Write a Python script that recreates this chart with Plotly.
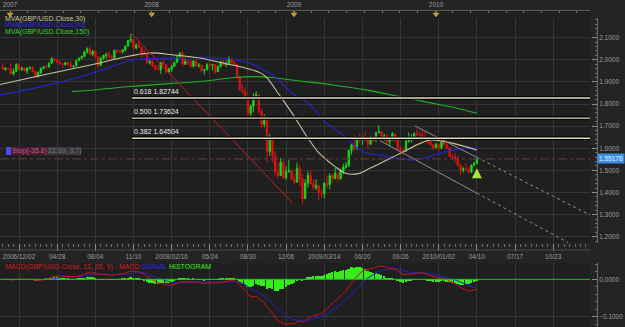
import plotly.graph_objects as go
import pandas as pd

# ---------------- data (weekly GBP/USD candles, index 0 = tick "2006/12/02") -------------
weeks = list(range(-6, 169))
opens = [1.9680,1.9570,1.9620,1.9580,1.9360,1.9480,1.9790,1.9570,1.9620,1.9490,
         1.9630,1.9640,1.9460,1.9240,1.9410,1.9610,1.9680,1.9670,1.9850,2.0040,
         1.9980,1.9880,1.9820,1.9790,1.9870,1.9800,1.9700,1.9720,1.9970,2.0060,
         2.0150,2.0360,2.0500,2.0260,2.0390,2.0130,1.9750,2.0070,2.0200,2.0250,
         2.0130,2.0070,2.0420,2.0380,2.0360,2.0440,2.0620,2.0870,2.0920,2.0550,
         2.0660,2.0560,2.0290,2.0220,1.9860,1.9930,1.9730,1.9580,1.9560,1.9870,
         1.9770,1.9460,1.9580,1.9700,1.9880,2.0140,2.0300,1.9800,1.9930,1.9890,
         1.9710,1.9940,1.9720,1.9750,1.9520,1.9550,1.9780,1.9760,1.9780,1.9460,
         1.9700,1.9910,1.9780,1.9790,2.0030,1.9870,1.9790,1.9180,1.8640,1.8550,
         1.8220,1.7580,1.7900,1.8250,1.8420,1.7690,1.7080,1.7250,1.5840,1.6370,
         1.5660,1.4920,1.4770,1.5370,1.4660,1.4960,1.4990,1.4610,1.4470,1.5100,
         1.4620,1.3720,1.4420,1.4780,1.4390,1.4230,1.4310,1.4000,1.3940,1.4410,
         1.4360,1.4760,1.4630,1.4870,1.4620,1.4980,1.5150,1.5230,1.5900,1.6160,
         1.6010,1.6480,1.6440,1.6520,1.6350,1.6190,1.6480,1.6460,1.6700,1.6740,
         1.6500,1.6560,1.6300,1.6390,1.6650,1.6350,1.5960,1.5910,1.5870,1.6320,
         1.6430,1.6470,1.6660,1.6620,1.6580,1.6510,1.6420,1.6260,1.6160,1.6020,
         1.6170,1.6020,1.6280,1.6160,1.6000,1.5630,1.5620,1.5530,1.5240,1.5020,
         1.5070,1.5030,1.4930,1.5230,1.5320]
highs = [1.9850,1.9680,1.9640,1.9850,1.9610,1.9850,1.9830,1.9700,1.9650,1.9660,
         1.9720,1.9720,1.9500,1.9470,1.9650,1.9720,1.9760,1.9870,2.0130,2.0070,
         2.0030,1.9960,1.9860,1.9900,1.9890,1.9950,1.9760,1.9990,2.0120,2.0190,
         2.0400,2.0570,2.0600,2.0440,2.0430,2.0160,2.0110,2.0230,2.0330,2.0400,
         2.0210,2.0470,2.0470,2.0450,2.0480,2.0650,2.0900,2.1160,2.0930,2.0740,
         2.0850,2.0580,2.0480,2.0240,2.0000,1.9990,1.9760,1.9780,1.9900,1.9990,
         1.9800,1.9640,1.9760,1.9910,2.0160,2.0340,2.0400,2.0050,1.9980,1.9990,
         1.9990,2.0000,1.9860,1.9780,1.9580,1.9850,1.9880,1.9820,1.9800,1.9740,
         1.9950,1.9980,1.9970,2.0160,2.0090,1.9960,1.9830,1.9280,1.8870,1.8770,
         1.8240,1.7960,1.8480,1.8580,1.8450,1.7790,1.7540,1.7250,1.6650,1.6520,
         1.5870,1.5340,1.5570,1.5470,1.5170,1.5480,1.5040,1.4840,1.5360,1.5240,
         1.4830,1.4600,1.4950,1.5000,1.4600,1.4590,1.4320,1.4170,1.4480,1.4760,
         1.4870,1.4860,1.5110,1.4900,1.5080,1.5300,1.5380,1.5930,1.6200,1.6590,
         1.6520,1.6660,1.6570,1.6750,1.6420,1.6560,1.6560,1.6750,1.7040,1.6790,
         1.6660,1.6640,1.6430,1.6740,1.6670,1.6460,1.6080,1.6000,1.6400,1.6710,
         1.6620,1.6730,1.6870,1.6790,1.6880,1.6740,1.6460,1.6450,1.6180,1.6250,
         1.6180,1.6350,1.6460,1.6240,1.6070,1.5740,1.5800,1.5630,1.5280,1.5140,
         1.5320,1.5150,1.5280,1.5380,1.5530]
lows = [1.9560,1.9500,1.9540,1.9360,1.9290,1.9450,1.9560,1.9500,1.9470,1.9360,
        1.9560,1.9460,1.9180,1.9190,1.9360,1.9570,1.9620,1.9640,1.9830,1.9910,
        1.9840,1.9750,1.9650,1.9720,1.9720,1.9640,1.9610,1.9700,1.9930,2.0030,
        2.0120,2.0270,2.0180,2.0160,2.0110,1.9630,1.9720,1.9990,2.0050,2.0080,
        1.9980,2.0060,2.0280,2.0300,2.0290,2.0390,2.0600,2.0780,2.0420,2.0460,
        2.0520,2.0100,2.0210,1.9830,1.9780,1.9660,1.9520,1.9500,1.9360,1.9750,
        1.9370,1.9400,1.9450,1.9670,1.9850,2.0060,1.9720,1.9770,1.9780,1.9650,
        1.9640,1.9690,1.9640,1.9430,1.9340,1.9510,1.9610,1.9510,1.9360,1.9440,
        1.9650,1.9760,1.9680,1.9780,1.9840,1.9720,1.9150,1.8580,1.8480,1.8170,
        1.7440,1.7450,1.7640,1.8200,1.7580,1.6900,1.6950,1.5380,1.5640,1.5350,
        1.4730,1.4640,1.4750,1.4620,1.4580,1.4880,1.4540,1.4380,1.4450,1.4300,
        1.3500,1.3720,1.4210,1.4350,1.4130,1.4110,1.3660,1.3770,1.3730,1.4190,
        1.4140,1.4450,1.4590,1.4480,1.4560,1.4820,1.5070,1.5150,1.5710,1.5870,
        1.5920,1.6250,1.6150,1.6330,1.6000,1.6140,1.6270,1.6300,1.6690,1.6350,
        1.6340,1.6210,1.6080,1.6350,1.6260,1.5930,1.5810,1.5710,1.5830,1.6240,
        1.6250,1.6420,1.6540,1.6460,1.6300,1.6380,1.6180,1.6100,1.5930,1.5990,
        1.5840,1.5950,1.6110,1.5960,1.5590,1.5490,1.5350,1.5180,1.4780,1.4900,
        1.4970,1.4830,1.4880,1.5200,1.5280]
closes = [1.9570,1.9620,1.9580,1.9360,1.9480,1.9790,1.9570,1.9620,1.9490,1.9630,
          1.9640,1.9460,1.9240,1.9410,1.9610,1.9680,1.9670,1.9850,2.0040,1.9980,
          1.9880,1.9820,1.9790,1.9870,1.9800,1.9700,1.9720,1.9970,2.0060,2.0150,
          2.0360,2.0500,2.0260,2.0390,2.0130,1.9750,2.0070,2.0200,2.0250,2.0130,
          2.0070,2.0420,2.0380,2.0360,2.0440,2.0620,2.0870,2.0920,2.0550,2.0660,
          2.0560,2.0290,2.0220,1.9860,1.9930,1.9730,1.9580,1.9560,1.9870,1.9770,
          1.9460,1.9580,1.9700,1.9880,2.0140,2.0300,1.9800,1.9930,1.9890,1.9710,
          1.9940,1.9720,1.9750,1.9520,1.9550,1.9780,1.9760,1.9780,1.9460,1.9700,
          1.9910,1.9780,1.9790,2.0030,1.9870,1.9790,1.9180,1.8640,1.8550,1.8220,
          1.7580,1.7900,1.8250,1.8420,1.7690,1.7080,1.7250,1.5840,1.6370,1.5660,
          1.4920,1.4770,1.5370,1.4660,1.4960,1.4990,1.4610,1.4470,1.5100,1.4620,
          1.3720,1.4420,1.4780,1.4390,1.4230,1.4310,1.4000,1.3940,1.4410,1.4360,
          1.4760,1.4630,1.4870,1.4620,1.4980,1.5150,1.5230,1.5900,1.6160,1.6010,
          1.6480,1.6440,1.6520,1.6350,1.6190,1.6480,1.6460,1.6700,1.6740,1.6500,
          1.6560,1.6300,1.6390,1.6650,1.6350,1.5960,1.5910,1.5870,1.6320,1.6430,
          1.6470,1.6660,1.6620,1.6580,1.6510,1.6420,1.6260,1.6160,1.6020,1.6170,
          1.6020,1.6280,1.6160,1.6000,1.5630,1.5620,1.5530,1.5240,1.5020,1.5070,
          1.5030,1.4930,1.5230,1.5320,1.5518]

# moving averages (week index, price)
ma30_x = [-7, 8.8, 25, 40.7, 48, 57, 66.4, 75.6, 83, 88.4, 91, 95, 100.2, 106, 109.7,
          116, 119.6, 124, 128.8, 135, 141, 147.2, 150.8, 154.5, 159.3, 168]
ma30_y = [1.888, 1.931, 1.973, 2.017, 2.031, 2.022, 2.008, 1.983, 1.963, 1.942, 1.918,
          1.850, 1.759, 1.646, 1.584, 1.517, 1.488, 1.484, 1.509, 1.547, 1.584, 1.622,
          1.637, 1.634, 1.622, 1.592]
ma90_x = [-7, 9.5, 26, 41.8, 51, 63.5, 75.6, 83, 87.7, 94, 100.2, 106.8, 112.3, 119.6,
          126.2, 132.5, 138.7, 143.5, 148.3, 154.5, 160.7, 168]
ma90_y = [1.841, 1.882, 1.936, 1.999, 2.007, 2.010, 2.007, 1.990, 1.969, 1.922, 1.850,
          1.796, 1.720, 1.652, 1.584, 1.569, 1.555, 1.547, 1.555, 1.577, 1.595, 1.602]
ma150_x = [19.4, 29.7, 40.7, 53.6, 66.4, 79.3, 86.6, 92.1, 103.1, 115.2, 127.7, 139.8,
           151.9, 160.7, 168]
ma150_y = [1.856, 1.866, 1.879, 1.891, 1.902, 1.920, 1.924, 1.920, 1.904, 1.886, 1.863,
           1.833, 1.803, 1.781, 1.758]

bottom_tick_pos = [0, 14, 28, 42, 56, 70, 84, 98, 112, 126, 140, 154, 168, 182, 196]
bottom_tick_labels = ["2006/12/02", "04/28", "08/04", "11/10", "2008/02/16", "05/24",
                      "08/30", "12/06", "2009/03/14", "06/20", "09/26", "2010/01/02",
                      "04/10", "07/17", "10/23"]
year_pos = [-3.3, 48.7, 100.9, 153.0]
year_labels = ["2007", "2008", "2009", "2010"]

fib_ratios = [0.618, 0.500, 0.382]
fib_levels = [1.82744, 1.73624, 1.64504]
fib_start = 41.5

last_price = 1.55176
red_trend_x = [41.1, 100.4]
red_trend_y = [2.121, 1.352]
chan_upper_x = [145.3, 209.5]
chan_upper_y = [1.701, 1.298]
chan_lower_x = [132.5, 201.5]
chan_lower_y = [1.634, 1.173]
arrow_x = [168]
arrow_y = [1.509]

# ---------------- styling ----------------
X_RANGE = [-6.97, 209.5]
XD = [0, 0.944]
W, H = 625, 327
PAPER = '#242424'
PLOT = '#1f1f1f'
GRID = '#353535'
FONT = 'Liberation Sans'
axis_font = dict(family=FONT, size=6.5, color='#9c9c9c')


def py(px):  # pixel-from-top -> paper y
    return 1 - px / H


def pxx(px):
    return px / W


# MACD from closes
cs = pd.Series(closes)
ema12 = cs.ewm(span=12, adjust=False).mean()
ema26 = cs.ewm(span=26, adjust=False).mean()
macd = ema12 - ema26
signal = macd.ewm(span=9, adjust=False).mean()
hist = macd - signal

fig = go.Figure()

fig.add_trace(go.Candlestick(
    x=weeks, open=opens, high=highs, low=lows, close=closes,
    increasing=dict(line=dict(color='#19d619', width=1), fillcolor='#19d619'),
    decreasing=dict(line=dict(color='#e01010', width=1), fillcolor='#e01010'),
    whiskerwidth=0, hoverinfo='skip', xaxis='x', yaxis='y', showlegend=False))

for xs, ys, col in [(ma150_x, ma150_y, '#22b022'), (ma90_x, ma90_y, '#2424d8'),
                    (ma30_x, ma30_y, '#c9c49c')]:
    fig.add_trace(go.Scatter(x=xs, y=ys, mode='lines', line=dict(color=col, width=1.1, shape='spline'),
                             xaxis='x', yaxis='y', hoverinfo='skip', showlegend=False))

# trend lines
fig.add_trace(go.Scatter(x=red_trend_x, y=red_trend_y, mode='lines',
                         line=dict(color='#c81e1e', width=1), xaxis='x', yaxis='y',
                         hoverinfo='skip', showlegend=False))


def on_line(xs, ys, x):
    return ys[0] + (ys[1] - ys[0]) * (x - xs[0]) / (xs[1] - xs[0])


last_week = weeks[-1]
for xs, ys in [(chan_upper_x, chan_upper_y), (chan_lower_x, chan_lower_y)]:
    ym = on_line(xs, ys, last_week)
    fig.add_trace(go.Scatter(x=[xs[0], last_week], y=[ys[0], ym], mode='lines',
                             line=dict(color='#8c8c8c', width=1), xaxis='x', yaxis='y',
                             hoverinfo='skip', showlegend=False))
    fig.add_trace(go.Scatter(x=[last_week, xs[1]], y=[ym, ys[1]], mode='lines',
                             line=dict(color='#8c8c8c', width=1, dash='dot'), xaxis='x', yaxis='y',
                             hoverinfo='skip', showlegend=False))

fig.add_trace(go.Scatter(x=arrow_x, y=arrow_y, mode='markers',
                         marker=dict(symbol='arrow-up', size=10, color='#a8e23c'),
                         xaxis='x', yaxis='y', hoverinfo='skip', showlegend=False))

# MACD panel
fig.add_trace(go.Bar(x=weeks, y=hist, marker=dict(color='#33ee1a', line=dict(width=0)), width=0.72,
                     xaxis='x2', yaxis='y2', hoverinfo='skip', showlegend=False))
fig.add_trace(go.Scatter(x=weeks, y=signal, mode='lines', line=dict(color='#2222cc', width=1),
                         xaxis='x2', yaxis='y2', hoverinfo='skip', showlegend=False))
fig.add_trace(go.Scatter(x=weeks, y=macd, mode='lines', line=dict(color='#cc1414', width=1),
                         xaxis='x2', yaxis='y2', hoverinfo='skip', showlegend=False))

# top strip year markers
fig.add_trace(go.Scatter(x=year_pos, y=[0.55] * len(year_pos), mode='markers',
                         marker=dict(symbol='triangle-down', size=6, color='#d8a41c'),
                         xaxis='x3', yaxis='y3', hoverinfo='skip', showlegend=False))

shapes = []
# price line
shapes.append(dict(type='line', xref='x domain', yref='y', x0=0, x1=1, y0=last_price, y1=last_price,
                   line=dict(color='#6e3a4a', width=1, dash='dashdot')))
# fib lines
for lvl in fib_levels:
    shapes.append(dict(type='line', xref='x', yref='y', x0=fib_start, x1=X_RANGE[1], y0=lvl, y1=lvl,
                       line=dict(color='#000000', width=3.5)))
    shapes.append(dict(type='line', xref='x', yref='y', x0=fib_start, x1=X_RANGE[1], y0=lvl, y1=lvl,
                       line=dict(color='#e2dcc0', width=1.4)))
# MACD zero line
shapes.append(dict(type='line', xref='x2 domain', yref='y2', x0=0, x1=1, y0=0, y1=0,
                   line=dict(color='#22b822', width=1)))
# ruler bottom line
shapes.append(dict(type='line', xref='paper', yref='paper', x0=0, x1=XD[1], y0=py(250), y1=py(250),
                   line=dict(color='#4a4a4a', width=1)))
# Stop label boxes
shapes.append(dict(type='rect', xref='paper', yref='paper', x0=pxx(6), x1=pxx(11), y0=py(155), y1=py(147),
                   fillcolor='#4a4ae0', line=dict(width=0)))
shapes.append(dict(type='rect', xref='paper', yref='paper', x0=pxx(11), x1=pxx(48), y0=py(155), y1=py(147),
                   fillcolor='#4f1a33', line=dict(width=0)))
shapes.append(dict(type='rect', xref='paper', yref='paper', x0=pxx(48), x1=pxx(81), y0=py(155), y1=py(147),
                   fillcolor='#38383e', line=dict(width=0)))

ann = []
for r, lvl in zip(fib_ratios, fib_levels):
    ann.append(dict(xref='x', yref='y', x=fib_start, y=lvl, xanchor='left', yanchor='bottom',
                    text=f"{r:.3f} {lvl:.5f}", showarrow=False, yshift=1,
                    font=dict(family=FONT, size=7, color='#e8e8e8')))
for txt, col, ypix in [("MVA(GBP/USD.Close,30)", '#c9c49c', 19),
                       ("MVA(GBP/USD.Close,90)", '#2a2ae6', 25.5),
                       ("MVA(GBP/USD.Close,150)", '#2ed02e', 32)]:
    ann.append(dict(xref='paper', yref='paper', x=pxx(3), y=py(ypix), xanchor='left', yanchor='middle',
                    text=txt, showarrow=False, font=dict(family=FONT, size=7, color=col)))
ann.append(dict(xref='paper', yref='paper', x=pxx(3), y=py(266.5), xanchor='left', yanchor='middle',
                showarrow=False, font=dict(family=FONT, size=7),
                text="<span style='color:#d21c1c'>MACD(GBP/USD.Close, 12, 26, 9) - MACD</span> "
                     "<span style='color:#2a2ae6'>SIGNAL</span> "
                     "<span style='color:#33ee1a'>HISTOGRAM</span>"))
ann.append(dict(xref='paper', yref='y', x=0.955, y=last_price, xanchor='left', yanchor='middle',
                text=f"{last_price:.5f}", showarrow=False, bgcolor='#3b8fe6', borderpad=1,
                font=dict(family=FONT, size=6.5, color='#eaf4ff')))
ann.append(dict(xref='paper', yref='paper', x=pxx(29.5), y=py(151), xanchor='center', yanchor='middle',
                text="Stop(-35.8)", showarrow=False, font=dict(family=FONT, size=7, color='#a8647e')))
ann.append(dict(xref='paper', yref='paper', x=pxx(64.5), y=py(151), xanchor='center', yanchor='middle',
                text="22:10, 3.7)", showarrow=False, font=dict(family=FONT, size=7, color='#76767c')))

fig.update_layout(
    width=W, height=H, margin=dict(l=0, r=0, t=0, b=0),
    paper_bgcolor=PAPER, plot_bgcolor=PLOT, showlegend=False, bargap=0,
    shapes=shapes, annotations=ann,
    xaxis=dict(domain=XD, range=X_RANGE, anchor='y', tickmode='array', tickvals=bottom_tick_pos,
               ticktext=bottom_tick_labels, ticks='outside', ticklen=7, tickcolor='#8a8a8a',
               showgrid=True, gridcolor=GRID, gridwidth=1, zeroline=False, showline=False,
               tickfont=axis_font, rangeslider=dict(visible=False), fixedrange=True,
               minor=dict(tickmode='linear', tick0=0, dtick=2, ticks='outside', ticklen=3,
                          tickcolor='#6a6a6a', showgrid=False)),
    yaxis=dict(domain=[py(243), py(18)], range=[1.1715, 2.189], anchor='free', position=0.955,
               side='right', tickmode='linear', tick0=1.2, dtick=0.1, tickformat='.4f',
               ticks='inside', ticklen=5, tickcolor='#8a8a8a', showline=True, linecolor='#6e6e6e',
               showgrid=True, gridcolor=GRID, zeroline=False, tickfont=axis_font, fixedrange=True,
               minor=dict(tickmode='linear', tick0=1.2, dtick=0.02, ticks='inside', ticklen=2,
                          tickcolor='#6a6a6a', showgrid=False)),
    xaxis2=dict(domain=XD, range=X_RANGE, anchor='y2', tickmode='array', tickvals=bottom_tick_pos,
                showticklabels=False, ticks='', showgrid=True, gridcolor=GRID, zeroline=False,
                showline=False, fixedrange=True),
    yaxis2=dict(domain=[0, py(263)], range=[-0.1275, 0.0436], anchor='free', position=0.955,
                side='right', tickmode='array', tickvals=[0, -0.1], tickformat='.4f',
                ticks='inside', ticklen=5, tickcolor='#8a8a8a', showline=True, linecolor='#6e6e6e',
                showgrid=True, gridcolor=GRID, zeroline=False, tickfont=axis_font, fixedrange=True,
                minor=dict(tickmode='linear', tick0=0, dtick=0.02, ticks='inside', ticklen=2,
                           tickcolor='#6a6a6a', showgrid=False)),
    xaxis3=dict(domain=XD, range=X_RANGE, anchor='y3', side='top', tickmode='array',
                tickvals=year_pos, ticktext=year_labels, ticks='inside', ticklen=4,
                tickcolor='#8a8a8a', showline=True, linecolor='#5a5a5a', showgrid=False,
                zeroline=False, tickfont=axis_font, fixedrange=True,
                minor=dict(tickmode='linear', tick0=year_pos[0], dtick=6.5, ticks='inside',
                           ticklen=2, tickcolor='#6a6a6a', showgrid=False)),
    yaxis3=dict(domain=[py(18), py(11)], range=[0, 1], visible=False, fixedrange=True),
)

fig.write_html("out.html")
